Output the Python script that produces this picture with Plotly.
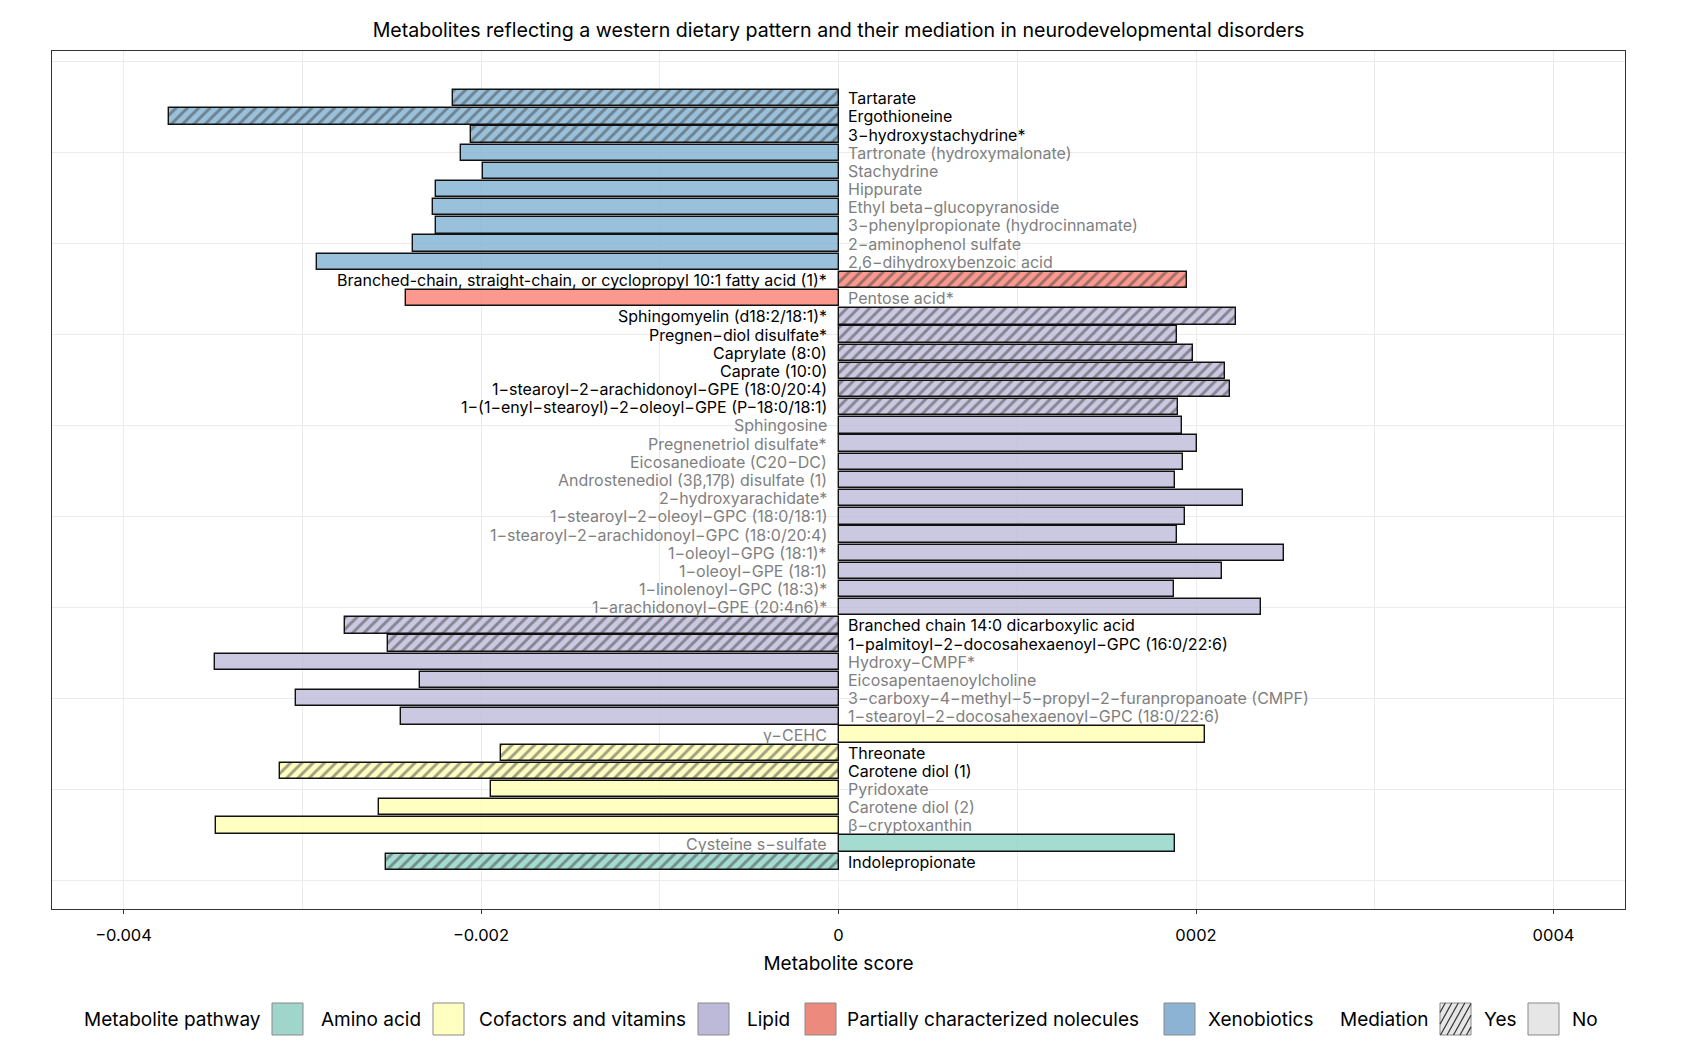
import plotly.graph_objects as go

# ---------------- data ----------------
metabolites = [
    "Tartarate", "Ergothioneine", "3−hydroxystachydrine*", "Tartronate (hydroxymalonate)",
    "Stachydrine", "Hippurate", "Ethyl beta−glucopyranoside",
    "3−phenylpropionate (hydrocinnamate)", "2−aminophenol sulfate",
    "2,6−dihydroxybenzoic acid",
    "Branched-chain, straight-chain, or cyclopropyl 10:1 fatty acid (1)*",
    "Pentose acid*",
    "Sphingomyelin (d18:2/18:1)*", "Pregnen−diol disulfate*", "Caprylate (8:0)",
    "Caprate (10:0)", "1−stearoyl−2−arachidonoyl−GPE (18:0/20:4)",
    "1−(1−enyl−stearoyl)−2−oleoyl−GPE (P−18:0/18:1)", "Sphingosine",
    "Pregnenetriol disulfate*", "Eicosanedioate (C20−DC)",
    "Androstenediol (3β,17β) disulfate (1)", "2−hydroxyarachidate*",
    "1−stearoyl−2−oleoyl−GPC (18:0/18:1)", "1−stearoyl−2−arachidonoyl−GPC (18:0/20:4)",
    "1−oleoyl−GPG (18:1)*", "1−oleoyl−GPE (18:1)", "1−linolenoyl−GPC (18:3)*",
    "1−arachidonoyl−GPE (20:4n6)*", "Branched chain 14:0 dicarboxylic acid",
    "1−palmitoyl−2−docosahexaenoyl−GPC (16:0/22:6)", "Hydroxy−CMPF*",
    "Eicosapentaenoylcholine",
    "3−carboxy−4−methyl−5−propyl−2−furanpropanoate (CMPF)",
    "1−stearoyl−2−docosahexaenoyl−GPC (18:0/22:6)",
    "γ−CEHC", "Threonate", "Carotene diol (1)", "Pyridoxate", "Carotene diol (2)",
    "β−cryptoxanthin", "Cysteine s−sulfate", "Indolepropionate",
]

# metabolite score, in axis units as drawn
scores = [
    -0.002159, -0.003743, -0.002054, -0.002110, -0.001991, -0.002251, -0.002268,
    -0.002251, -0.002378, -0.002916,
    0.001950, -0.002417,
    0.002224, 0.001894, 0.001984, 0.002165, 0.002191, 0.001898, 0.001922,
    0.002004, 0.001926, 0.001883, 0.002264, 0.001941, 0.001894, 0.002495,
    0.002148, 0.001876, 0.002364, -0.002759, -0.002518, -0.003486, -0.002339,
    -0.003033, -0.002446,
    0.002053, -0.001886, -0.003126, -0.001946, -0.002569, -0.003480,
    0.001880, -0.002533,
]

pathways = (["Xenobiotics"] * 10
            + ["Partially characterized nolecules"] * 2
            + ["Lipid"] * 23
            + ["Cofactors and vitamins"] * 6
            + ["Amino acid"] * 2)

mediation = ["Yes", "Yes", "Yes", "No", "No", "No", "No", "No", "No", "No",
             "Yes", "No",
             "Yes", "Yes", "Yes", "Yes", "Yes", "Yes", "No", "No", "No", "No",
             "No", "No", "No", "No", "No", "No", "No", "Yes", "Yes", "No", "No",
             "No", "No",
             "No", "Yes", "Yes", "No", "No", "No",
             "No", "Yes"]

pathway_order = ["Amino acid", "Cofactors and vitamins", "Lipid",
                 "Partially characterized nolecules", "Xenobiotics"]
mediation_order = ["Yes", "No"]

x_tickvals = [-0.004, -0.002, 0, 0.002, 0.004]
x_ticktext = ["−0.004", "−0.002", "0", "0002", "0004"]
x_minorvals = [-0.003, -0.001, 0.001, 0.003]

# ---------------- styling ----------------
FONT = "Inter"
pathway_fill = {
    "Amino acid": "rgba(141,211,199,0.8)",
    "Cofactors and vitamins": "rgba(255,255,179,0.8)",
    "Lipid": "rgba(190,186,218,0.8)",
    "Partially characterized nolecules": "rgba(251,128,114,0.8)",
    "Xenobiotics": "rgba(128,177,211,0.8)",
}
legend_fill = {
    "Amino acid": "#9fd5cb",
    "Cofactors and vitamins": "#ffffc2",
    "Lipid": "#bdb9d8",
    "Partially characterized nolecules": "#eb8a7d",
    "Xenobiotics": "#8cb3d3",
}
mediation_fill = {"Yes": "#e6e6e6", "No": "#e6e6e6"}

n = len(metabolites)
ypos = [n - i for i in range(n)]

W, H = 1708, 1052
PL, PR, PT, PB = 52, 1625, 51, 909


def px(x):
    return (x - PL) / (PR - PL)


def py(y):
    return (PB - y) / (PB - PT)


fig = go.Figure()
fig.add_trace(go.Bar(
    x=scores, y=ypos, orientation="h", width=0.9,
    marker=dict(
        color=[pathway_fill[p] for p in pathways],
        line=dict(color="#111111", width=1.4),
        pattern=dict(
            shape=["/" if m == "Yes" else "" for m in mediation],
            fillmode="overlay", fgcolor="#1a1a1a", size=8, solidity=0.36,
        ),
    ),
    hovertext=metabolites, showlegend=False,
))

annotations = []
for name, s, yv, m in zip(metabolites, scores, ypos, mediation):
    annotations.append(dict(
        x=0, y=yv, xref="x", yref="y", text=name, showarrow=False,
        xanchor="left" if s < 0 else "right", yanchor="middle",
        xshift=7 if s < 0 else -10,
        font=dict(family=FONT, size=16, color="#000000" if m == "Yes" else "#7f7f7f"),
    ))

shapes = []
# ---------------- manual legend ----------------
LEG_Y0, LEG_Y1 = 1003, 1035
LEG_TY = 1019
leg_font = dict(family=FONT, size=19, color="#000000")


def leg_text(x, text):
    annotations.append(dict(
        x=px(x), y=py(LEG_TY), xref="paper", yref="paper", text=text,
        showarrow=False, xanchor="left", yanchor="middle", font=leg_font))


def swatch(x0, fill, hatched=False):
    x1 = x0 + 31
    shapes.append(dict(type="rect", xref="paper", yref="paper",
                       x0=px(x0), x1=px(x1), y0=py(LEG_Y1), y1=py(LEG_Y0),
                       fillcolor=fill, line=dict(color="#8a8a8a", width=1)))
    if hatched:
        w, h = x1 - x0, LEG_Y1 - LEG_Y0
        step = 6.5
        c = -h
        while c < w:
            pts = []
            for t in (c, c + h / 1.8):
                pts.append((t, (t - c) * 1.8))
            (ta, ua), (tb, ub) = pts
            if ta < 0:
                ua = ua + (0 - ta) * 1.8
                ta = 0
            if tb > w:
                ub = ub - (tb - w) * 1.8
                tb = w
            if tb > ta and ua < h and ub > 0:
                shapes.append(dict(type="line", xref="paper", yref="paper",
                                   x0=px(x0 + ta), y0=py(LEG_Y1 - ua),
                                   x1=px(x0 + tb), y1=py(LEG_Y1 - ub),
                                   line=dict(color="#333333", width=1.2)))
            c += step


leg_text(82, "Metabolite pathway")
pw_swatch_x = [272, 433, 698, 805, 1164]
pw_text_x = [319, 477, 745, 845, 1206]
for p, sx, tx in zip(pathway_order, pw_swatch_x, pw_text_x):
    swatch(sx, legend_fill[p])
    leg_text(tx, p)

leg_text(1338, "Mediation")
md_swatch_x = [1440, 1528]
md_text_x = [1482, 1570]
for m, sx, tx in zip(mediation_order, md_swatch_x, md_text_x):
    swatch(sx, mediation_fill[m], hatched=(m == "Yes"))
    leg_text(tx, m)

fig.update_layout(
    width=W, height=H, autosize=False,
    margin=dict(l=PL, r=W - PR, t=PT, b=H - PB, pad=0),
    paper_bgcolor="white", plot_bgcolor="white",
    font=dict(family=FONT, color="#000000"),
    title=dict(
        text="Metabolites reflecting a western dietary pattern and their mediation in neurodevelopmental disorders",
        x=0.5, xref="paper", xanchor="center", y=1 - 30 / H, yref="container", yanchor="middle",
        font=dict(family=FONT, size=19.6, color="#000000"),
    ),
    xaxis=dict(
        range=[-0.0044, 0.0044], tickmode="array", tickvals=x_tickvals, ticktext=x_ticktext,
        ticks="outside", ticklen=4, tickwidth=1, tickcolor="#333333",
        tickfont=dict(family=FONT, size=16.5, color="#000000"), ticklabelstandoff=7,
        showgrid=True, gridcolor="#ebebeb", gridwidth=1.2, zeroline=False,
        minor=dict(tickmode="array", tickvals=x_minorvals, showgrid=True,
                   gridcolor="#ebebeb", gridwidth=1, ticks=""),
        showline=True, linecolor="#333333", linewidth=1.2, mirror=True,
        title=dict(text="Metabolite score", font=dict(family=FONT, size=19), standoff=12),
    ),
    yaxis=dict(
        range=[-1.595, 45.595], tickmode="array", tickvals=list(range(0, 46, 5)),
        showticklabels=False, ticks="", showgrid=True, gridcolor="#ebebeb", gridwidth=1.2,
        zeroline=False, showline=True, linecolor="#333333", linewidth=1.2, mirror=True,
    ),
    annotations=annotations, shapes=shapes, showlegend=False, bargap=0,
)

fig.write_html("out.html", config={"displayModeBar": False},
               post_script="document.body.style.margin='0';document.body.style.overflow='hidden';")
